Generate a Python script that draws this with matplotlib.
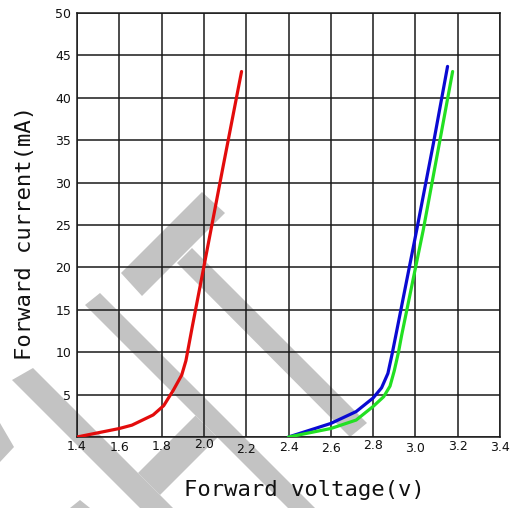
import matplotlib
matplotlib.use('Agg')
import matplotlib.pyplot as plt
from matplotlib.patches import Polygon
from matplotlib.transforms import ScaledTranslation

plt.rcParams['font.family'] = ['DejaVu Sans']

# 正向电压 / 电流
red_v = [1.40, 1.50, 1.60, 1.66, 1.76, 1.81, 1.855, 1.895, 1.915, 1.945, 2.00, 2.09, 2.178]
red_i = [0.0, 0.5, 1.0, 1.4, 2.6, 3.7, 5.5, 7.3, 9.0, 13.0, 20.1, 31.8, 43.1]

blue_v = [2.40, 2.50, 2.60, 2.72, 2.80, 2.84, 2.87, 2.89, 2.91, 3.006, 3.085, 3.152]
blue_i = [0.0, 0.8, 1.6, 3.0, 4.6, 5.8, 7.5, 9.8, 12.3, 24.4, 34.6, 43.7]

green_v = [2.40, 2.50, 2.60, 2.72, 2.80, 2.85, 2.88, 2.90, 2.92, 2.935, 3.037, 3.116, 3.176]
green_i = [0.0, 0.5, 1.0, 2.0, 3.6, 4.75, 6.0, 7.8, 10.0, 12.0, 24.4, 35.0, 43.1]

x_ticks = [1.4, 1.6, 1.8, 2.0, 2.2, 2.4, 2.6, 2.8, 3.0, 3.2, 3.4]
x_labels = ['1.4', '1.6', '1.8', '2.0', '2.2', '2.4', '2.6', '2.8', '3.0', '3.2', '3.4']
y_ticks = [0, 5, 10, 15, 20, 25, 30, 35, 40, 45, 50]
y_labels = ['', '5', '10', '15', '20', '25', '30', '35', '40', '45', '50']

# 标签上下错位(像素)
x_label_jitter = [-0.6, 0.9, -0.9, -2.6, 2.4, 0.4, 1.9, -1.9, 1.4, -0.6, 0.4]

# 水印形状 (像素坐标)
watermark = [
    [(121, 273), (202, 192), (225, 213), (142, 296)],
    [(177, 263), (192, 248), (367, 423), (350, 437)],
    [(100, 293), (85, 305), (310, 530), (337, 530)],
    [(33, 368), (12, 380), (162, 530), (195, 530)],
    [(138, 473), (195.5, 415.5), (217.5, 437.5), (160, 495)],
    [(0, 423), (14, 447), (0, 462)],
    [(70, 508), (80, 500), (90, 508)],
]


def main():
    fig = plt.figure(figsize=(5.18, 5.08), dpi=100)

    bg = fig.add_axes([0, 0, 1, 1], zorder=0)
    bg.set_xlim(0, 518)
    bg.set_ylim(508, 0)
    bg.axis('off')
    for pts in watermark:
        bg.add_patch(Polygon(pts, closed=True, facecolor='#c3c3c3', edgecolor='none'))

    ax = fig.add_axes([77 / 518, 71 / 508, 423 / 518, 424 / 508], zorder=1)
    ax.patch.set_alpha(0)

    ax.plot(red_v, red_i, color='#e30c0c', linewidth=2.3, solid_capstyle='round',
            solid_joinstyle='round', zorder=3)
    ax.plot(blue_v, blue_i, color='#0a0ad2', linewidth=2.3, solid_capstyle='round',
            solid_joinstyle='round', zorder=3)
    ax.plot(green_v, green_i, color='#22e022', linewidth=2.3, solid_capstyle='round',
            solid_joinstyle='round', zorder=3)

    ax.set_xlim(1.4, 3.4)
    ax.set_ylim(0, 50)
    ax.set_xticks(x_ticks)
    ax.set_xticklabels(x_labels)
    ax.set_yticks(y_ticks)
    ax.set_yticklabels(y_labels)
    ax.tick_params(length=0, labelsize=9, colors='#111111')
    ax.tick_params(axis='x', pad=2.5)
    ax.tick_params(axis='y', pad=4)
    ax.grid(True, color='#1a1a1a', linewidth=1.1)
    ax.set_axisbelow(True)
    for s in ax.spines.values():
        s.set_color('#1a1a1a')
        s.set_linewidth(1.1)

    for lab, dy in zip(ax.get_xticklabels(), x_label_jitter):
        lab.set_transform(lab.get_transform() + ScaledTranslation(0, -dy / 100, fig.dpi_scale_trans))

    ax.set_xlabel('Forward voltage(v)', family='DejaVu Sans Mono', size=16, color='#111111', va='center')
    ax.xaxis.set_label_coords(0.537, -0.125)
    ax.set_ylabel('Forward current(mA)', family='DejaVu Sans Mono', size=16, color='#111111', va='center')
    ax.yaxis.set_label_coords(-0.123, 0.481)

    plt.savefig('out.png', dpi=100)


if __name__ == "__main__":
    main()
